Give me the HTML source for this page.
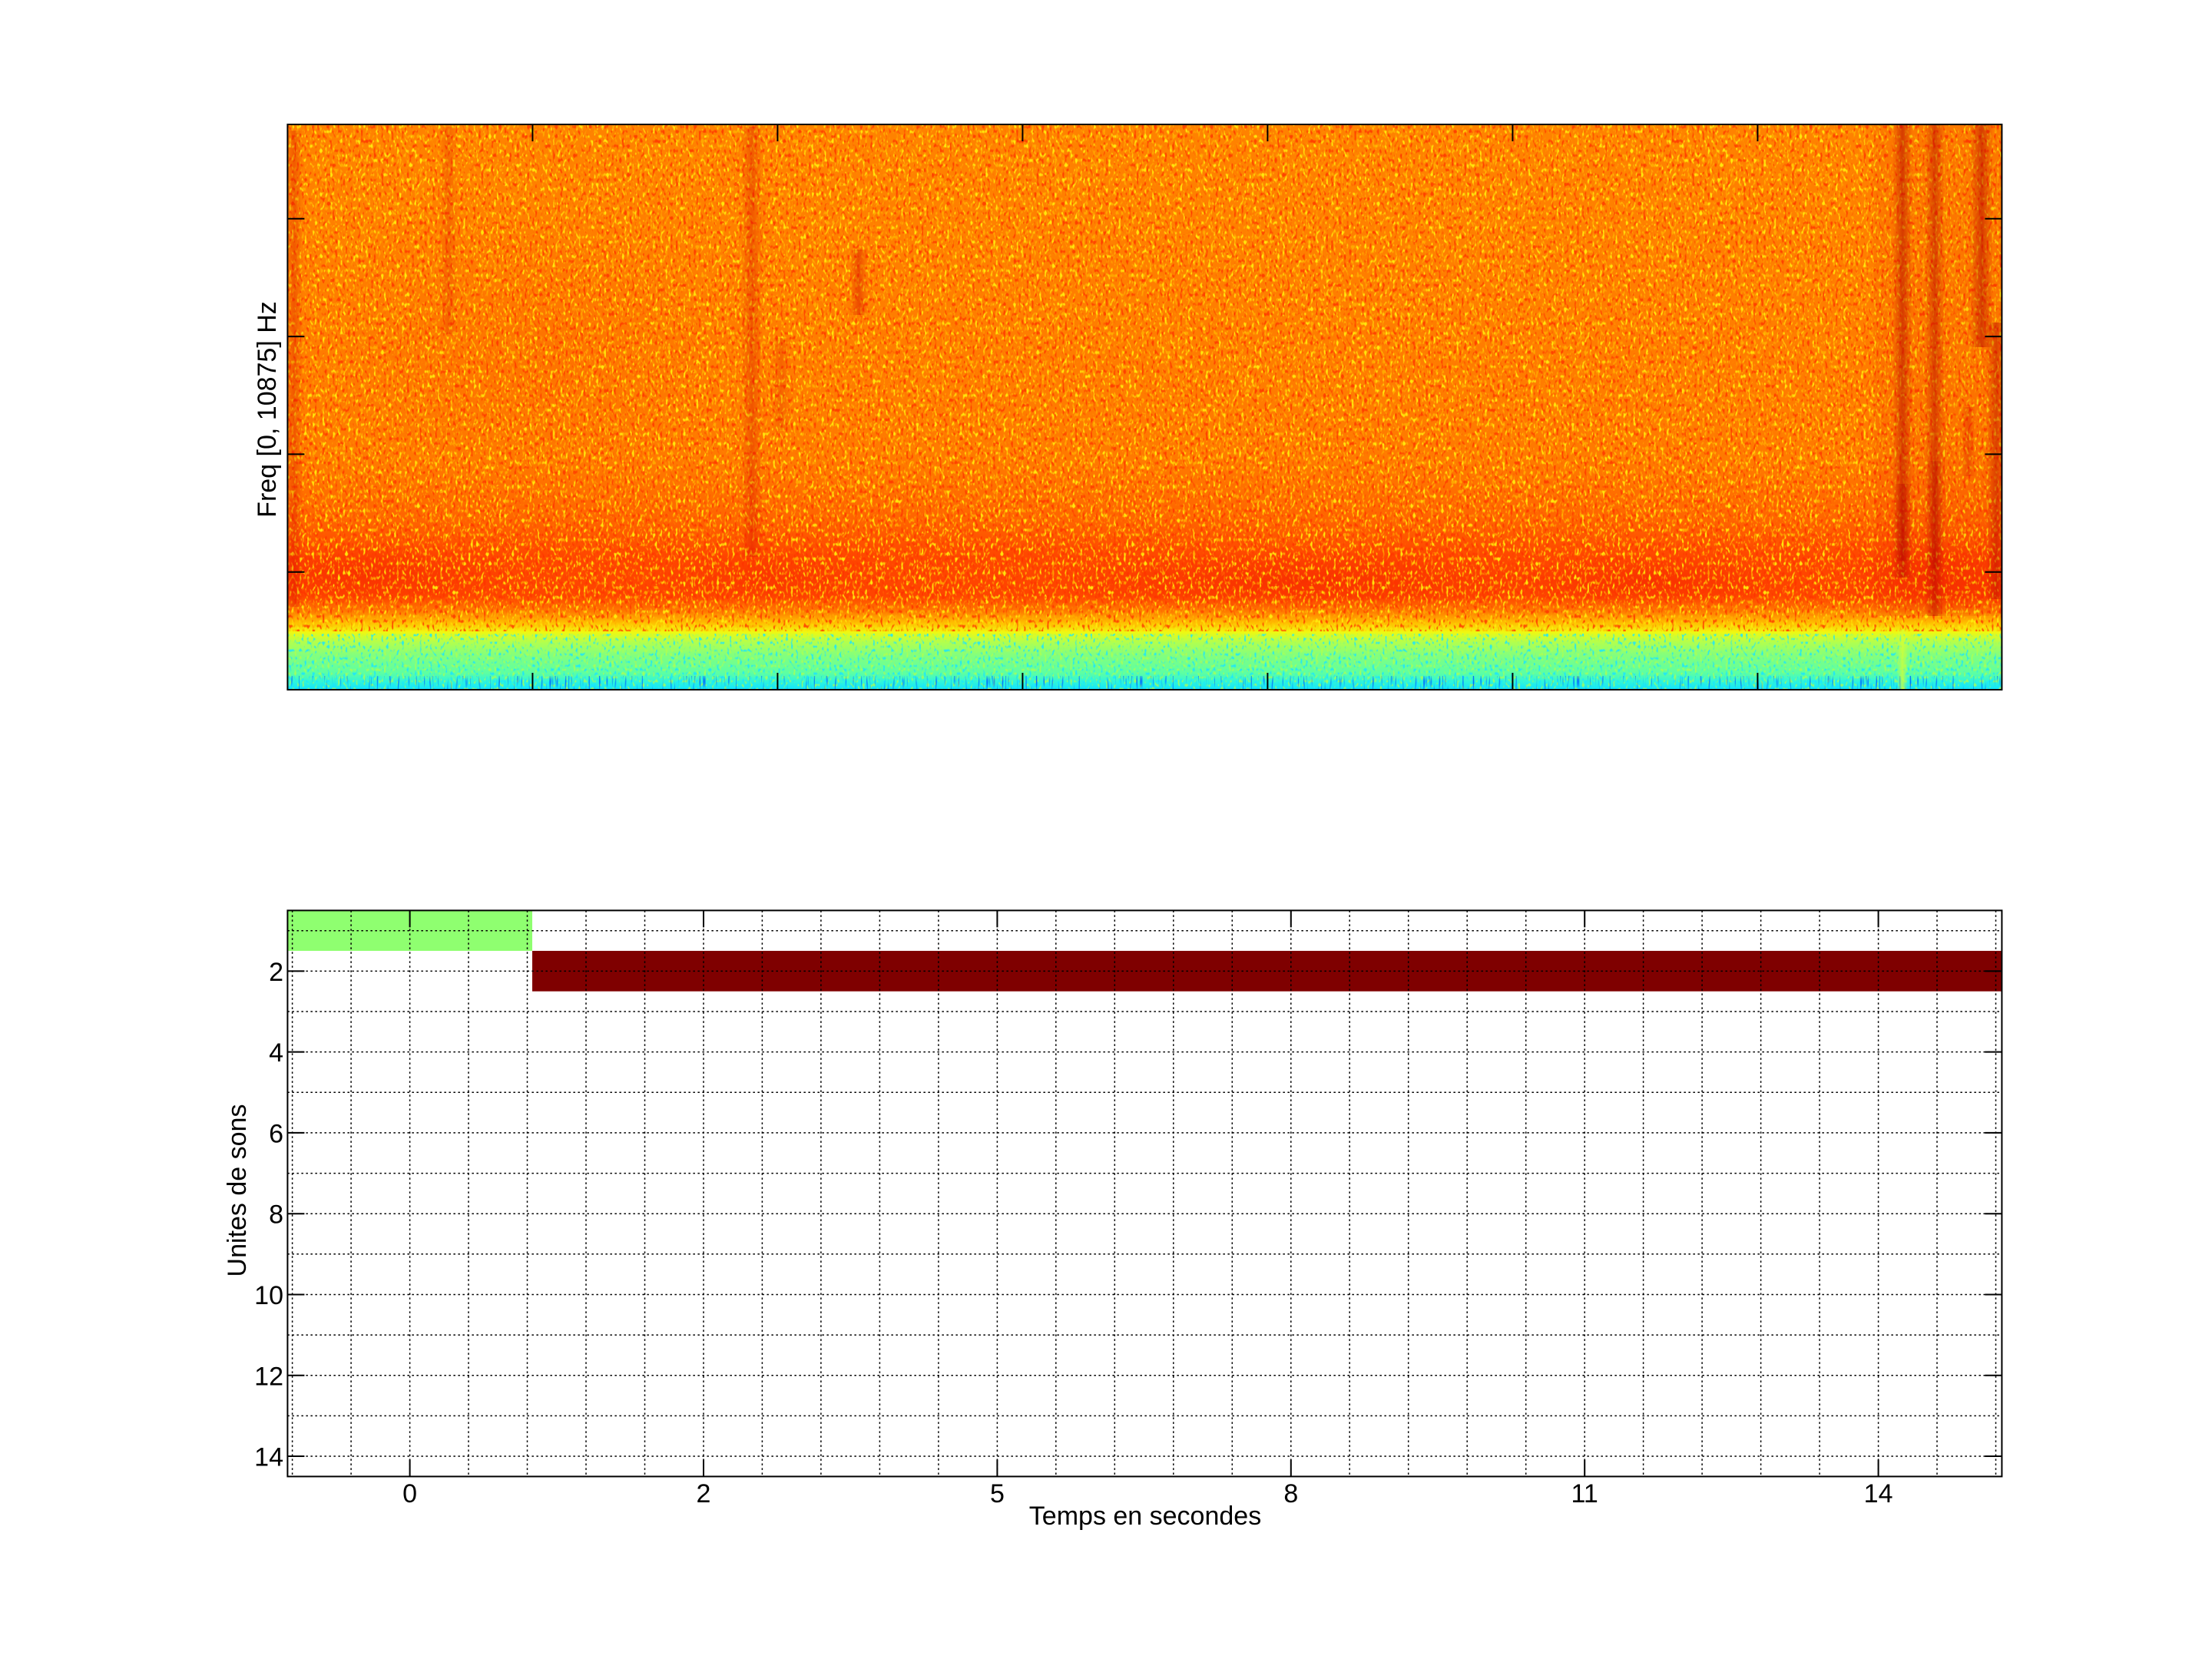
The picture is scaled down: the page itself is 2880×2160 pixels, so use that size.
<!DOCTYPE html>
<html><head><meta charset="utf-8"><style>
html,body{margin:0;padding:0;background:#fff;}
svg{display:block;}
text{font-family:"Liberation Sans",Arial,sans-serif;fill:#000;}
</style></head><body>
<svg width="2880" height="2160" viewBox="0 0 2880 2160" xmlns="http://www.w3.org/2000/svg">
<defs>
<linearGradient id="bg" x1="0" y1="0" x2="0" y2="1">
<stop offset="0" stop-color="#FF8200"/>
<stop offset="0.595" stop-color="#FF7A00"/>
<stop offset="0.70" stop-color="#FF6400"/>
<stop offset="0.765" stop-color="#FF4600"/>
<stop offset="0.834" stop-color="#FF4400"/>
<stop offset="0.861" stop-color="#FF7800"/>
<stop offset="0.882" stop-color="#FFC000"/>
<stop offset="0.898" stop-color="#F0F810"/>
<stop offset="0.917" stop-color="#B0FF50"/>
<stop offset="0.938" stop-color="#84FF7C"/>
<stop offset="0.971" stop-color="#5CFFA4"/>
<stop offset="0.985" stop-color="#30F6D8"/>
<stop offset="1" stop-color="#10E4FF"/>
</linearGradient>
<linearGradient id="sg" x1="0" y1="0" x2="1" y2="0">
<stop offset="0" stop-color="#D00000" stop-opacity="0"/>
<stop offset="0.5" stop-color="#D00000" stop-opacity="1"/>
<stop offset="1" stop-color="#D00000" stop-opacity="0"/>
</linearGradient>
<linearGradient id="sgd" x1="0" y1="0" x2="1" y2="0">
<stop offset="0" stop-color="#B00000" stop-opacity="0"/>
<stop offset="0.5" stop-color="#B00000" stop-opacity="1"/>
<stop offset="1" stop-color="#B00000" stop-opacity="0"/>
</linearGradient>
<linearGradient id="yg" x1="0" y1="0" x2="1" y2="0">
<stop offset="0" stop-color="#D8FF30" stop-opacity="0"/>
<stop offset="0.5" stop-color="#D8FF30" stop-opacity="1"/>
<stop offset="1" stop-color="#D8FF30" stop-opacity="0"/>
</linearGradient>
<radialGradient id="rb">
<stop offset="0" stop-color="#E80000" stop-opacity="1"/>
<stop offset="1" stop-color="#E80000" stop-opacity="0"/>
</radialGradient>
<clipPath id="cp"><rect x="374.4" y="162" width="2232" height="736"/></clipPath>
<filter id="specY" x="374" y="162" width="2234" height="660" filterUnits="userSpaceOnUse" color-interpolation-filters="sRGB">
<feTurbulence type="fractalNoise" baseFrequency="0.3 0.16" numOctaves="1" seed="7"/>
<feColorMatrix type="matrix" values="0 0 0 0 1  0 0 0 0 0.92  0 0 0 0 0.05  7 0 0 0 -4.0"/>
</filter>
<filter id="specO" x="374" y="162" width="2234" height="660" filterUnits="userSpaceOnUse" color-interpolation-filters="sRGB">
<feTurbulence type="fractalNoise" baseFrequency="0.3 0.16" numOctaves="1" seed="71"/>
<feColorMatrix type="matrix" values="0 0 0 0 1  0 0 0 0 0.7  0 0 0 0 0  7 0 0 0 -3.9"/>
</filter>
<filter id="specR" x="374" y="162" width="2234" height="660" filterUnits="userSpaceOnUse" color-interpolation-filters="sRGB">
<feTurbulence type="fractalNoise" baseFrequency="0.3 0.16" numOctaves="1" seed="23"/>
<feColorMatrix type="matrix" values="0 0 0 0 1  0 0 0 0 0.2  0 0 0 0 0  7 0 0 0 -4.0"/>
</filter>
<filter id="specC" x="374" y="825" width="2234" height="75" filterUnits="userSpaceOnUse" color-interpolation-filters="sRGB">
<feTurbulence type="fractalNoise" baseFrequency="0.3 0.2" numOctaves="1" seed="41"/>
<feColorMatrix type="matrix" values="0 0 0 0 0.1  0 0 0 0 0.9  0 0 0 0 1  7 0 0 0 -4.0"/>
</filter>
<filter id="specG" x="374" y="825" width="2234" height="75" filterUnits="userSpaceOnUse" color-interpolation-filters="sRGB">
<feTurbulence type="fractalNoise" baseFrequency="0.3 0.2" numOctaves="1" seed="59"/>
<feColorMatrix type="matrix" values="0 0 0 0 0.7  0 0 0 0 1  0 0 0 0 0.3  7 0 0 0 -4.0"/>
</filter>
<filter id="specB" x="374" y="880" width="2234" height="20" filterUnits="userSpaceOnUse" color-interpolation-filters="sRGB">
<feTurbulence type="fractalNoise" baseFrequency="0.45 0.04" numOctaves="1" seed="3"/>
<feColorMatrix type="matrix" values="0 0 0 0 0  0 0 0 0 0.4  0 0 0 0 1  6 0 0 0 -3.6"/>
</filter>
</defs>

<!-- ===== Spectrogram (top axes) ===== -->
<g clip-path="url(#cp)">
<rect x="374.4" y="162" width="2232" height="736" fill="url(#bg)"/>
<ellipse cx="1700" cy="757" rx="330" ry="40" fill="url(#rb)" opacity="0.3"/>
<ellipse cx="2150" cy="757" rx="200" ry="35" fill="url(#rb)" opacity="0.28"/>
<ellipse cx="480" cy="748" rx="200" ry="40" fill="url(#rb)" opacity="0.28"/>
<ellipse cx="1000" cy="752" rx="160" ry="35" fill="url(#rb)" opacity="0.2"/>
<ellipse cx="2520" cy="755" rx="120" ry="50" fill="url(#rb)" opacity="0.3"/>
<ellipse cx="700" cy="450" rx="300" ry="200" fill="url(#rb)" opacity="0.08"/>
<!-- speckle -->
<rect x="374" y="162" width="2234" height="660" fill="#000" filter="url(#specO)" opacity="0.8"/>
<rect x="374" y="162" width="2234" height="660" fill="#000" filter="url(#specY)" opacity="0.95"/>
<rect x="374" y="162" width="2234" height="660" fill="#000" filter="url(#specR)" opacity="0.8"/>
<rect x="374" y="825" width="2234" height="75" fill="#000" filter="url(#specC)" opacity="0.85"/>
<rect x="374" y="825" width="2234" height="75" fill="#000" filter="url(#specG)" opacity="0.75"/>
<rect x="374" y="880" width="2234" height="20" fill="#000" filter="url(#specB)" opacity="0.9"/>
<!-- vertical stripes -->
<rect x="372" y="170" width="22" height="620" fill="url(#sg)" opacity="0.3"/>
<rect x="572" y="165" width="24" height="270" fill="url(#sg)" opacity="0.2"/>
<rect x="965" y="165" width="28" height="560" fill="url(#sg)" opacity="0.32"/>
<rect x="1005" y="440" width="24" height="120" fill="url(#sg)" opacity="0.2"/>
<rect x="1106" y="325" width="24" height="85" fill="url(#sg)" opacity="0.4"/>
<rect x="2440" y="162" width="166" height="640" fill="#D00000" opacity="0.07"/>
<rect x="2464" y="162" width="26" height="590" fill="url(#sgd)" opacity="0.5"/>
<rect x="2466" y="630" width="22" height="100" fill="url(#sgd)" opacity="0.35"/>
<rect x="2506" y="162" width="26" height="640" fill="url(#sgd)" opacity="0.45"/>
<rect x="2508" y="600" width="22" height="140" fill="url(#sgd)" opacity="0.3"/>
<rect x="2554" y="530" width="18" height="90" fill="url(#sg)" opacity="0.3"/>
<rect x="2565" y="162" width="30" height="290" fill="url(#sgd)" opacity="0.5"/>
<rect x="2586" y="420" width="26" height="360" fill="url(#sgd)" opacity="0.42"/>
<rect x="2470" y="820" width="14" height="78" fill="url(#yg)" opacity="0.75"/>
</g>
<rect x="374.4" y="162" width="2232" height="736" fill="none" stroke="#000" stroke-width="2"/>
<path d="M693.4 162v22M1012.4 162v22M1331.4 162v22M1650.4 162v22M1969.4 162v22M2288.4 162v22
M693.4 898v-22M1012.4 898v-22M1331.4 898v-22M1650.4 898v-22M1969.4 898v-22M2288.4 898v-22
M374.4 284.8h22M374.4 438.1h22M374.4 591.4h22M374.4 744.7h22M374.4 898h22
M2606.4 284.8h-22M2606.4 438.1h-22M2606.4 591.4h-22M2606.4 744.7h-22M2606.4 898h-22" stroke="#000" stroke-width="2" fill="none"/>
<text x="359" y="533" font-size="34" text-anchor="middle" transform="rotate(-90 359 533)">Freq [0, 10875] Hz</text>

<!-- ===== Bottom axes ===== -->
<rect x="374.4" y="1185.4" width="318.6" height="52.6" fill="#8FFF70"/>
<rect x="693" y="1238" width="1913.4" height="52.7" fill="#7F0000"/>
<path d="M380.6 1185.4V1922.4M457.1 1185.4V1922.4M533.6 1185.4V1922.4M610 1185.4V1922.4M686.5 1185.4V1922.4M763 1185.4V1922.4M839.5 1185.4V1922.4M916 1185.4V1922.4M992.4 1185.4V1922.4M1068.9 1185.4V1922.4M1145.4 1185.4V1922.4M1221.9 1185.4V1922.4M1298.4 1185.4V1922.4M1374.8 1185.4V1922.4M1451.3 1185.4V1922.4M1527.8 1185.4V1922.4M1604.3 1185.4V1922.4M1680.8 1185.4V1922.4M1757.2 1185.4V1922.4M1833.7 1185.4V1922.4M1910.2 1185.4V1922.4M1986.7 1185.4V1922.4M2063.2 1185.4V1922.4M2139.6 1185.4V1922.4M2216.1 1185.4V1922.4M2292.6 1185.4V1922.4M2369.1 1185.4V1922.4M2445.6 1185.4V1922.4M2522 1185.4V1922.4M2598.5 1185.4V1922.4
M374.4 1211.7H2606.4M374.4 1264.4H2606.4M374.4 1317H2606.4M374.4 1369.6H2606.4M374.4 1422.3H2606.4M374.4 1474.9H2606.4M374.4 1527.6H2606.4M374.4 1580.2H2606.4M374.4 1632.8H2606.4M374.4 1685.5H2606.4M374.4 1738.1H2606.4M374.4 1790.8H2606.4M374.4 1843.4H2606.4M374.4 1896H2606.4" stroke="#000" stroke-width="1.5" stroke-dasharray="2.5 3.5" fill="none"/>
<rect x="374.4" y="1185.4" width="2232" height="737" fill="none" stroke="#000" stroke-width="2"/>
<path d="M533.6 1185.4v22M916 1185.4v22M1298.4 1185.4v22M1680.8 1185.4v22M2063.2 1185.4v22M2445.6 1185.4v22
M533.6 1922.4v-22M916 1922.4v-22M1298.4 1922.4v-22M1680.8 1922.4v-22M2063.2 1922.4v-22M2445.6 1922.4v-22
M374.4 1264.4h22M374.4 1369.6h22M374.4 1474.9h22M374.4 1580.2h22M374.4 1685.5h22M374.4 1790.8h22M374.4 1896h22
M2606.4 1264.4h-22M2606.4 1369.6h-22M2606.4 1474.9h-22M2606.4 1580.2h-22M2606.4 1685.5h-22M2606.4 1790.8h-22M2606.4 1896h-22" stroke="#000" stroke-width="2" fill="none"/>
<g font-size="34" text-anchor="end">
<text x="369" y="1276.9">2</text>
<text x="369" y="1382.1">4</text>
<text x="369" y="1487.4">6</text>
<text x="369" y="1592.7">8</text>
<text x="369" y="1698">10</text>
<text x="369" y="1803.3">12</text>
<text x="369" y="1908.5">14</text>
</g>
<g font-size="34" text-anchor="middle">
<text x="533.6" y="1956">0</text>
<text x="916" y="1956">2</text>
<text x="1298.4" y="1956">5</text>
<text x="1680.8" y="1956">8</text>
<text x="2063.2" y="1956">11</text>
<text x="2445.6" y="1956">14</text>
</g>
<text x="1491" y="1985" font-size="34" text-anchor="middle">Temps en secondes</text>
<text x="320" y="1550" font-size="34" text-anchor="middle" transform="rotate(-90 320 1550)">Unites de sons</text>
</svg>
</body></html>
